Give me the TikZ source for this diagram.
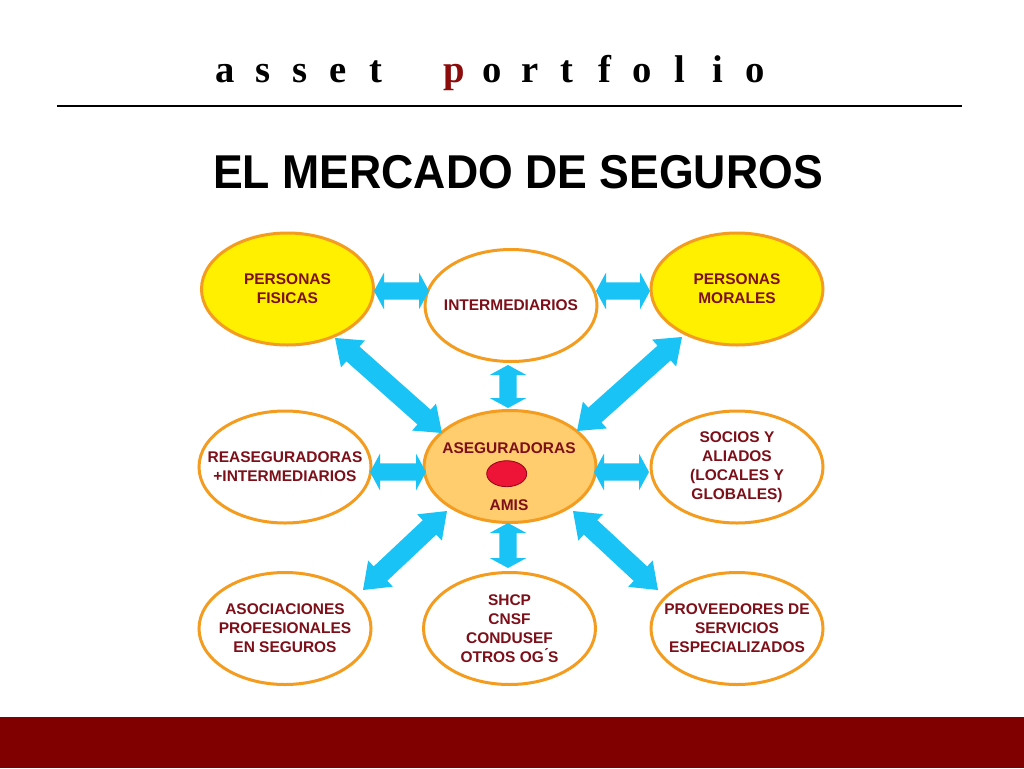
\documentclass[tikz,border=0pt]{standalone}
\usepackage{fontspec}
\setmainfont{Liberation Serif}
\newfontfamily\arialf{Liberation Sans}
\usetikzlibrary{shapes.geometric,calc}
\definecolor{txtred}{RGB}{125,15,25}
\definecolor{pred}{RGB}{140,12,12}
\definecolor{bordor}{RGB}{243,156,31}
\definecolor{yelfill}{RGB}{255,240,0}
\definecolor{asefill}{RGB}{255,204,110}
\definecolor{arrblue}{RGB}{25,195,245}
\definecolor{barred}{RGB}{128,0,0}
\definecolor{dotred}{RGB}{238,20,55}
\newcommand\spl[1]{\makebox[20.95pt][c]{#1}}
\newcommand\twowayarrow[5]{%
  \coordinate (tmpHa) at ($(#1)!#3!(#2)$);
  \coordinate (tmpHb) at ($(#2)!#3!(#1)$);
  \fill[arrblue] (#1) -- ($(tmpHa)!#4!90:(#2)$) -- ($(tmpHa)!#5!90:(#2)$)
    -- ($(tmpHb)!#5!-90:(#1)$) -- ($(tmpHb)!#4!-90:(#1)$) -- (#2)
    -- ($(tmpHb)!#4!90:(#1)$) -- ($(tmpHb)!#5!90:(#1)$)
    -- ($(tmpHa)!#5!-90:(#2)$) -- ($(tmpHa)!#4!-90:(#2)$) -- cycle;}
\tikzset{
  oval/.style={ellipse, draw=bordor, line width=2.25pt, fill=white,
    minimum width=129pt, minimum height=84pt, inner sep=-15pt,
    text=txtred, align=center,
    font=\arialf\bfseries\fontsize{11.6pt}{14.25pt}\selectfont},
  yel/.style={oval, fill=yelfill},
  lbl/.style={inner sep=0pt, text=txtred,
    font=\arialf\bfseries\fontsize{11.6pt}{14.25pt}\selectfont}
}
\begin{document}
\begin{tikzpicture}[x=0.75pt,y=-0.75pt]
\useasboundingbox (0,0) rectangle (1024,768);
\fill[white] (0,0) rectangle (1024,768);
% header
\node[anchor=base west, inner sep=0pt, font=\bfseries\fontsize{29pt}{34pt}\selectfont] (hdr) at (211,82.5)
  {\spl{a} \spl{s} \spl{s} \spl{e} \spl{t} \hspace{31pt}\spl{\textcolor{pred}{p}} \spl{o} \spl{r} \spl{t} \spl{f} \spl{o} \spl{l} \spl{i} \spl{o}};
\draw[line width=1.1pt] (57,106) -- (962,106);
% title
\node[anchor=base, inner sep=0pt, xscale=0.94,
  font=\arialf\bfseries\fontsize{35.6pt}{40pt}\selectfont] (ttl) at (518,188) {EL MERCADO DE SEGUROS};
% ellipses
\node[yel] (PF) at (287.5,289) {PERSONAS\\FISICAS};
\node[oval] (INT) at (511,305.5) {INTERMEDIARIOS};
\node[yel] (PM) at (737,289) {PERSONAS\\MORALES};
\node[oval] (REA) at (285,467) {REASEGURADORAS\\+INTERMEDIARIOS};
\node[oval, fill=asefill] (ASE) at (510,466.5) {};
\node[oval] (SOC) at (737,467) {SOCIOS Y\\ALIADOS\\(LOCALES Y\\GLOBALES)};
\node[oval] (ASO) at (285,628.5) {ASOCIACIONES\\PROFESIONALES\\EN SEGUROS};
\node[oval] (SHCP) at (509.5,628.5) {SHCP\\CNSF\\CONDUSEF\\OTROS OG\'{}S};
\node[oval] (PROV) at (737,628.5) {PROVEEDORES DE\\SERVICIOS\\ESPECIALIZADOS};
\node[lbl] (aseT) at (509,448) {ASEGURADORAS};
\node[lbl] (amisT) at (509,505) {AMIS};
\node[ellipse, draw={rgb,255:red,150;green,0;blue,20}, line width=0.6pt, fill=dotred,
  minimum width=30pt, minimum height=19.5pt, inner sep=0pt] (dot) at (506.7,473.7) {};
% arrow end points (relative to nodes)
\coordinate (a1s) at ($(PF)+(86.5,2)$);   \coordinate (a1e) at ($(INT)+(-82,-14.5)$);
\coordinate (a2s) at ($(INT)+(85,-14.5)$); \coordinate (a2e) at ($(PM)+(-87,2)$);
\coordinate (a3s) at ($(INT)+(-3,59.5)$);  \coordinate (a3e) at ($(ASE)+(-2,-58.5)$);
\coordinate (a4s) at ($(PF)+(47.5,49)$);   \coordinate (a4e) at ($(ASE)+(-68,-33.5)$);
\coordinate (a5s) at ($(PM)+(-55,48)$);    \coordinate (a5e) at ($(ASE)+(67,-35.5)$);
\coordinate (a6s) at ($(REA)+(85,5)$);     \coordinate (a6e) at ($(ASE)+(-84,5.5)$);
\coordinate (a7s) at ($(ASE)+(84,5.5)$);   \coordinate (a7e) at ($(SOC)+(-88,5)$);
\coordinate (a8s) at ($(ASE)+(-2,56.5)$);  \coordinate (a8e) at ($(SHCP)+(-1.5,-60.5)$);
\coordinate (a9s) at ($(ASE)+(-63,44.5)$); \coordinate (a9e) at ($(ASO)+(78,-38.5)$);
\coordinate (a10s) at ($(ASE)+(63,44.5)$); \coordinate (a10e) at ($(PROV)+(-79,-38.5)$);
% arrows
\twowayarrow{a1s}{a1e}{7.5pt}{13.8pt}{6.4pt}
\twowayarrow{a2s}{a2e}{7.5pt}{13.8pt}{6.4pt}
\twowayarrow{a3s}{a3e}{7.5pt}{13.8pt}{6.4pt}
\twowayarrow{a6s}{a6e}{7.5pt}{13.8pt}{6.4pt}
\twowayarrow{a7s}{a7e}{7.5pt}{13.8pt}{6.4pt}
\twowayarrow{a8s}{a8e}{7.5pt}{13.8pt}{6.4pt}
\twowayarrow{a4s}{a4e}{18pt}{13.5pt}{7.4pt}
\twowayarrow{a5s}{a5e}{18pt}{13.5pt}{7.4pt}
\twowayarrow{a9s}{a9e}{18pt}{13.5pt}{7.4pt}
\twowayarrow{a10s}{a10e}{18pt}{13.5pt}{7.4pt}
% bottom bar
\fill[barred] (0,717) rectangle (1024,768);
\end{tikzpicture}
\end{document}
